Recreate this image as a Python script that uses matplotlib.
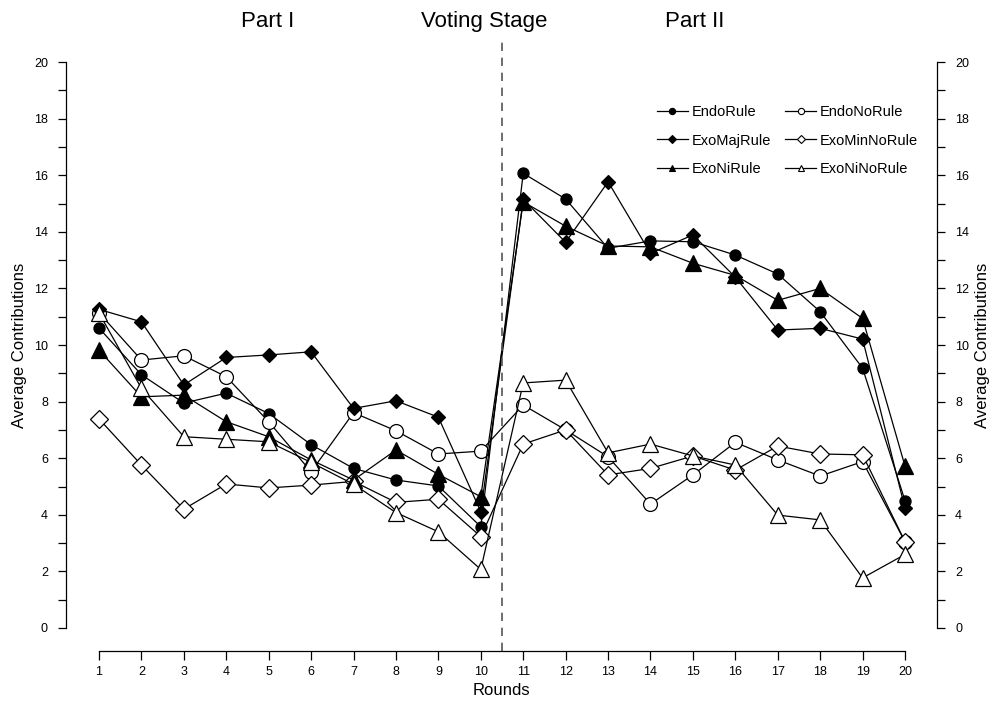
import matplotlib
matplotlib.use("Agg")
import matplotlib.pyplot as plt
from matplotlib.lines import Line2D
from matplotlib.ticker import MultipleLocator

plt.rcParams['font.family'] = ['Liberation Sans', 'DejaVu Sans']

rounds = list(range(1, 21))

endo_rule = [10.6, 8.95, 7.95, 8.3, 7.58, 6.48, 5.64, 5.23, 5.02, 3.58,
             16.07, 15.16, 13.42, 13.68, 13.65, 13.18, 12.51, 11.18, 9.18, 4.5]
endo_norule = [11.14, 9.47, 9.62, 8.88, 7.29, 5.52, 7.61, 6.97, 6.15, 6.25,
               7.88, 7.0, 6.05, 4.38, 5.41, 6.56, 5.94, 5.37, 5.88, 3.05]
exo_majrule = [11.26, 10.82, 8.59, 9.56, 9.65, 9.76, 7.76, 8.03, 7.45, 4.11,
               15.15, 13.63, 15.77, 13.24, 13.89, 12.4, 10.53, 10.59, 10.21, 4.23]
exo_minnorule = [7.39, 5.76, 4.2, 5.09, 4.95, 5.05, 5.18, 4.44, 4.55, 3.23,
                 6.5, 7.0, 5.41, 5.64, 6.08, 5.58, 6.43, 6.15, 6.12, 3.05]
exo_nirule = [9.82, 8.17, 8.23, 7.29, 6.76, 5.94, 5.23, 6.29, 5.43, 4.64,
              15.06, 14.2, 13.5, 13.47, 12.89, 12.46, 11.58, 12.0, 10.94, 5.72]
exo_ninorule = [11.13, 8.47, 6.76, 6.67, 6.58, 5.85, 5.08, 4.08, 3.4, 2.07,
                8.66, 8.76, 6.19, 6.5, 6.08, 5.76, 3.99, 3.82, 1.77, 2.6]

series = [
    ("EndoRule", endo_rule, 'o', 'black', 8),
    ("EndoNoRule", endo_norule, 'o', 'white', 10),
    ("ExoMajRule", exo_majrule, 'D', 'black', 7.5),
    ("ExoMinNoRule", exo_minnorule, 'D', 'white', 9.5),
    ("ExoNiRule", exo_nirule, '^', 'black', 12),
    ("ExoNiNoRule", exo_ninorule, '^', 'white', 12),
]

fig = plt.figure(figsize=(9.94, 7.07), dpi=100)
ax = fig.add_axes([66 / 994, 56 / 707, 871 / 994, 611 / 707])

for name, vals, mk, fc, ms in series:
    ax.plot(rounds, vals, color='black', lw=0.9, marker=mk,
            markerfacecolor=fc, markeredgecolor='black', markeredgewidth=0.9, ms=ms)

ax.set_xlim(0.222, 20.754)
ax.set_ylim(-0.813, 20.78)
ax.axvline(10.5, color='#555555', lw=1.2, ls=(0, (5, 4)))

ax.spines['top'].set_visible(False)
ax.spines['left'].set_bounds(0, 20)
ax.spines['right'].set_bounds(0, 20)
ax.spines['bottom'].set_bounds(1, 20)
for s in ax.spines.values():
    s.set_linewidth(0.9)

ax.set_xticks(rounds)
ax.yaxis.set_major_locator(MultipleLocator(2))
ax.yaxis.set_minor_locator(MultipleLocator(1))
ax.tick_params(axis='x', length=6.5, width=0.9, pad=4, labelsize=9)
ax.tick_params(axis='y', which='both', length=6, width=0.9, pad=7, labelsize=9,
               left=True, right=True, labelleft=True, labelright=True)

ax.set_xlabel("Rounds", fontsize=12, labelpad=4)
ax.set_ylabel("Average Contributions", fontsize=12, labelpad=5)
fig.text(982 / 994, 1 - 345 / 707, "Average Contributions", fontsize=12,
         rotation=90, ha='center', va='center')

# section headings above the plot
for label, xpix in [("Part I", 268), ("Voting Stage", 484), ("Part II", 695)]:
    fig.text(xpix / 994, 1 - 27 / 707, label, fontsize=16, ha='center', va='baseline')

handles = [Line2D([], [], color='black', lw=0.9, marker=mk, markerfacecolor=fc,
                  markeredgecolor='black', markeredgewidth=0.8, ms=4.5)
           for name, vals, mk, fc, ms in series]
labels = [s[0] for s in series]
order = [0, 2, 4, 1, 3, 5]
ax.legend([handles[i] for i in order], [labels[i] for i in order], ncol=2,
          frameon=False, fontsize=10.5, handlelength=2.1, handletextpad=0.25,
          columnspacing=1.0, labelspacing=1.0, borderpad=0, borderaxespad=0,
          loc='upper left', bbox_to_anchor=((657 - 66) / 871, (651 - 105) / 611))

fig.savefig("out.png", dpi=100)
